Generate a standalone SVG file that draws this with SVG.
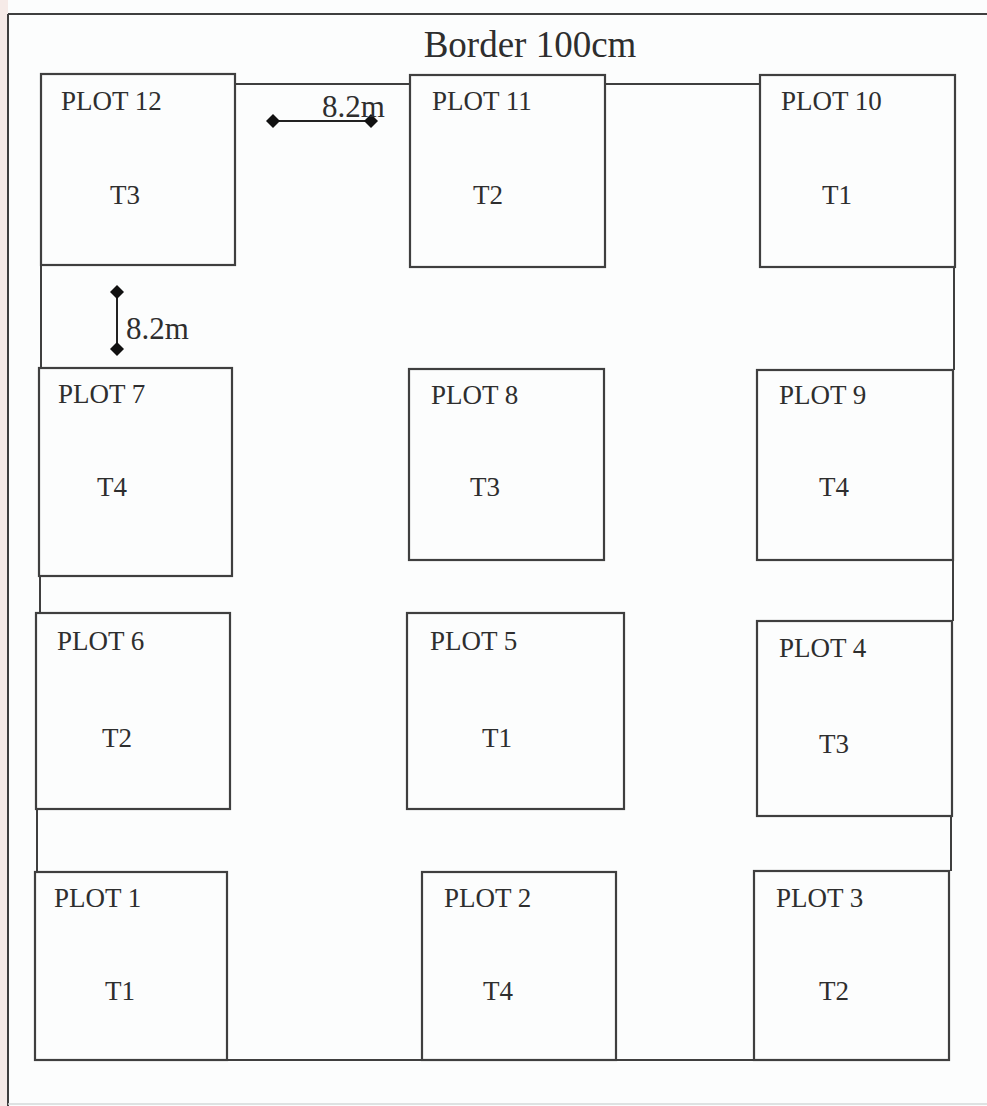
<svg xmlns="http://www.w3.org/2000/svg" width="987" height="1106" viewBox="0 0 987 1106">
<defs>
<style>
.plot{fill:none;stroke:#3f3f3f;stroke-width:2.2}
.seg{fill:none;stroke:#3f3f3f;stroke-width:2}
.lbl{font-family:"Liberation Serif",serif;font-size:27px;fill:#2e2e2e}
.tr{font-family:"Liberation Serif",serif;font-size:27px;fill:#2e2e2e;text-anchor:middle}
.dim{font-family:"Liberation Serif",serif;font-size:31px;fill:#2e2e2e}
.dline{stroke:#222;stroke-width:2;marker-start:url(#dia);marker-end:url(#dia)}
</style>
<marker id="dia" viewBox="-7 -7 14 14" markerWidth="14" markerHeight="14" refX="0" refY="0" markerUnits="userSpaceOnUse" orient="auto">
<path d="M0,-7 L7,0 L0,7 L-7,0 Z" fill="#111"/>
</marker>
</defs>
<rect x="0" y="0" width="987" height="1106" fill="#fcfdfd"/>
<rect x="0" y="0" width="8" height="1106" fill="#f6ebe8"/>
<g id="frame">
<path d="M8,14 H987" class="seg" stroke-width="2.5"/>
<path d="M8,14 V1106" class="seg" stroke-width="2.5"/>
<path d="M8,1104 H987" fill="none" stroke="#d5d8d8" stroke-width="1.5"/>
<text x="530" y="57" text-anchor="middle" font-family="Liberation Serif, serif" font-size="37" fill="#2e2e2e">Border 100cm</text>
</g>
<g id="connectors">
<path class="seg" d="M235,84 H410 M605,84 H760"/>
<path class="seg" d="M41,265 V368 M40,576 V613 M37,809 V872"/>
<path class="seg" d="M954,267 V370 M953,560 V621 M951,816 V871"/>
<path class="seg" d="M35,1060 H949" stroke-width="3"/>
</g>
<g id="dim-h">
<line class="dline" x1="273" y1="121" x2="371" y2="121"/>
<text class="dim" x="322" y="117">8.2m</text>
</g>
<g id="dim-v">
<line class="dline" x1="117" y1="292" x2="117" y2="349"/>
<text class="dim" x="126" y="339">8.2m</text>
</g>
<g id="plot12"><rect class="plot" x="41" y="74" width="194" height="191"/><text class="lbl" x="61" y="110">PLOT 12</text><text class="tr" x="125" y="204">T3</text></g>
<g id="plot11"><rect class="plot" x="410" y="75" width="195" height="192"/><text class="lbl" x="432" y="110">PLOT 11</text><text class="tr" x="488" y="204">T2</text></g>
<g id="plot10"><rect class="plot" x="760" y="75" width="195" height="192"/><text class="lbl" x="781" y="110">PLOT 10</text><text class="tr" x="837" y="204">T1</text></g>
<g id="plot7"><rect class="plot" x="39" y="368" width="193" height="208"/><text class="lbl" x="58" y="403">PLOT 7</text><text class="tr" x="112" y="496">T4</text></g>
<g id="plot8"><rect class="plot" x="409" y="369" width="195" height="191"/><text class="lbl" x="431" y="404">PLOT 8</text><text class="tr" x="485" y="496">T3</text></g>
<g id="plot9"><rect class="plot" x="757" y="370" width="196" height="190"/><text class="lbl" x="779" y="404">PLOT 9</text><text class="tr" x="834" y="496">T4</text></g>
<g id="plot6"><rect class="plot" x="36" y="613" width="194" height="196"/><text class="lbl" x="57" y="650">PLOT 6</text><text class="tr" x="117" y="747">T2</text></g>
<g id="plot5"><rect class="plot" x="407" y="613" width="217" height="196"/><text class="lbl" x="430" y="650">PLOT 5</text><text class="tr" x="497" y="747">T1</text></g>
<g id="plot4"><rect class="plot" x="757" y="621" width="195" height="195"/><text class="lbl" x="779" y="657">PLOT 4</text><text class="tr" x="834" y="753">T3</text></g>
<g id="plot1"><rect class="plot" x="35" y="872" width="192" height="188"/><text class="lbl" x="54" y="907">PLOT 1</text><text class="tr" x="120" y="1000">T1</text></g>
<g id="plot2"><rect class="plot" x="422" y="872" width="194" height="188"/><text class="lbl" x="444" y="907">PLOT 2</text><text class="tr" x="498" y="1000">T4</text></g>
<g id="plot3"><rect class="plot" x="754" y="871" width="195" height="189"/><text class="lbl" x="776" y="907">PLOT 3</text><text class="tr" x="834" y="1000">T2</text></g>
</svg>
